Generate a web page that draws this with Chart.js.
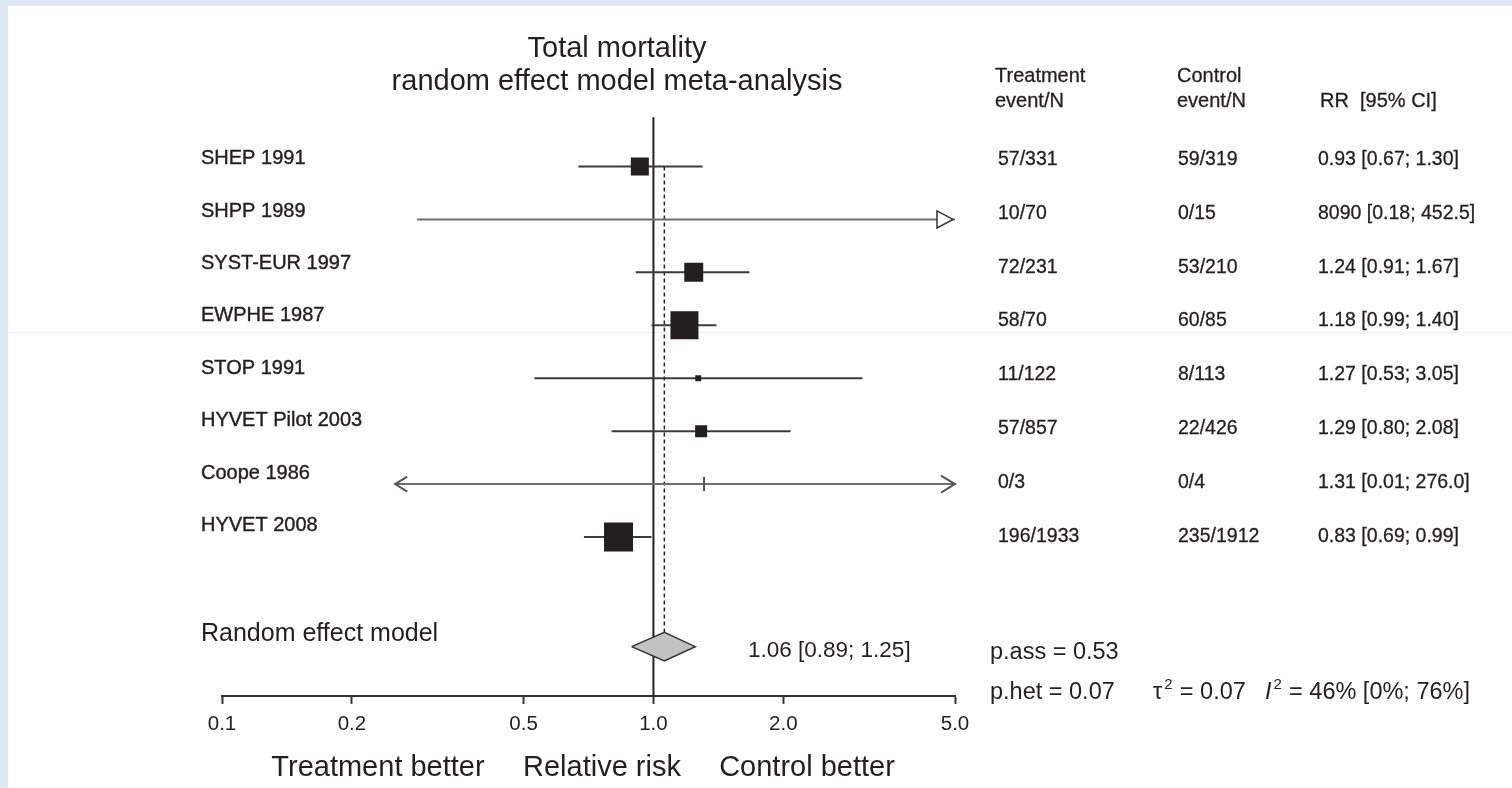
<!DOCTYPE html>
<html>
<head>
<meta charset="utf-8">
<script src="https://cdn.jsdelivr.net/npm/chart.js@4.4.1/dist/chart.umd.min.js"></script>
<style>
	html, body { margin: 0; padding: 0; }
	body { width: 1512px; height: 788px; background: #dde8f4; position: relative; overflow: hidden; }
	#panel { position: absolute; left: 8px; top: 6px; right: 0; bottom: 0; background: #fff; }
	#seam { position: absolute; left: 8px; right: 0; top: 332px; height: 1px; background: #edf2f8; }
	canvas { position: absolute; left: 0; top: 0; }
</style>
</head>
<body>
<div id="panel"></div>
<div id="seam"></div>
<canvas id="forest" width="1512" height="788"></canvas>
<script>
// study data
const studies = ['SHEP 1991', 'SHPP 1989', 'SYST-EUR 1997', 'EWPHE 1987', 'STOP 1991', 'HYVET Pilot 2003', 'Coope 1986', 'HYVET 2008'];
const treatment = ['57/331', '10/70', '72/231', '58/70', '11/122', '57/857', '0/3', '196/1933'];
const control = ['59/319', '0/15', '53/210', '60/85', '8/113', '22/426', '0/4', '235/1912'];
const rr = [0.93, 8090, 1.24, 1.18, 1.27, 1.29, 1.31, 0.83];
const ciLow = [0.67, 0.18, 0.91, 0.99, 0.53, 0.80, 0.01, 0.69];
const ciHigh = [1.30, 452.5, 1.67, 1.40, 3.05, 2.08, 276.0, 0.99];
// where the original figure stops the clipped lines on the left
const clipLow = [null, 0.283, null, null, null, null, 0.252, null];
// box weights (%)
const weights = [13.0, 0, 14.4, 31.4, 1.4, 5.8, 0, 33.6];

const pooled = 1.06, pooledLow = 0.89, pooledHigh = 1.25;
const pAss = '0.53', pHet = '0.07', tau2 = '0.07', i2 = '46% [0%; 76%]';
const xTicks = [0.1, 0.2, 0.5, 1, 2, 5];

const X_MIN = 0.1, X_MAX = 5;
const SUMMARY_ROW = 10.07, DIAMOND_H = 0.27;
const FONT = '"Liberation Sans", Arial, sans-serif';
const INK = '#231f20';
const BOX = 5; // px per sqrt(weight)

const fmt = v => v >= 1000 ? String(v) : (v >= 100 ? v.toFixed(1) : v.toFixed(2));

const datasets = [];

studies.forEach((s, i) => {
	const lo = clipLow[i] != null ? clipLow[i] : Math.max(ciLow[i], X_MIN),
		hi = Math.min(ciHigh[i], X_MAX);
	datasets.push({
		label: s,
		data: [{ x: lo, y: i + 1 }, { x: hi, y: i + 1 }],
		showLine: true,
		borderColor: weights[i] ? '#3c3c3c' : '#6e6e6e',
		borderWidth: 2,
		pointRadius: 0,
		order: 3
	});
});

// weighted boxes
datasets.push({
	label: 'boxes',
	data: studies.map((s, i) => ({ x: rr[i], y: i + 1, w: weights[i] })).filter(p => p.w > 0),
	pointStyle: 'rect',
	pointRadius: c => BOX * Math.sqrt(c.raw.w) / Math.SQRT2,
	backgroundColor: INK,
	borderWidth: 0,
	order: 0
});

// zero weight estimates inside the range: a small tick
datasets.push({
	label: 'ticks',
	data: studies.map((s, i) => ({ x: rr[i], y: i + 1, w: weights[i] }))
		.filter(p => p.w === 0 && p.x >= X_MIN && p.x <= X_MAX),
	pointStyle: 'line',
	rotation: 90,
	pointRadius: 7,
	borderColor: '#555',
	borderWidth: 2,
	order: 0
});

// no effect line
datasets.push({
	label: 'ref',
	data: [{ x: 1, y: 0.07 }, { x: 1, y: 11 }],
	showLine: true,
	borderColor: '#222',
	borderWidth: 2,
	pointRadius: 0,
	order: 4
});

// pooled estimate line
datasets.push({
	label: 'pooled',
	data: [{ x: pooled, y: 1 }, { x: pooled, y: SUMMARY_ROW - DIAMOND_H }],
	showLine: true,
	borderColor: '#222',
	borderWidth: 1.5,
	borderDash: [4, 3],
	pointRadius: 0,
	order: 4
});

// summary diamond
datasets.push({
	label: 'diamond',
	data: [
		{ x: pooledLow, y: SUMMARY_ROW },
		{ x: pooled, y: SUMMARY_ROW - DIAMOND_H },
		{ x: pooledHigh, y: SUMMARY_ROW },
		{ x: pooled, y: SUMMARY_ROW + DIAMOND_H },
		{ x: pooledLow, y: SUMMARY_ROW }
	],
	showLine: true,
	fill: 'shape',
	backgroundColor: '#c2c2c2',
	borderColor: '#333',
	borderWidth: 1.5,
	pointRadius: 0,
	order: 1
});

const chevron = (ctx, tipX, y, dir, len, half) => {
	ctx.beginPath();
	ctx.moveTo(tipX - dir * len, y - half);
	ctx.lineTo(tipX, y);
	ctx.lineTo(tipX - dir * len, y + half);
	ctx.stroke();
};

const annotate = {
	id: 'annotate',
	afterDatasetsDraw(chart) {
		const { ctx, scales: { x, y } } = chart;
		ctx.save();
		ctx.lineWidth = 2;
		studies.forEach((s, i) => {
			const py = y.getPixelForValue(i + 1);
			if (ciHigh[i] > X_MAX) {
				const tip = x.getPixelForValue(X_MAX);
				if (rr[i] > X_MAX) {
					// estimate itself off the scale: open triangle
					ctx.beginPath();
					ctx.moveTo(tip - 18, py - 8.5);
					ctx.lineTo(tip - 2, py);
					ctx.lineTo(tip - 18, py + 8.5);
					ctx.closePath();
					ctx.fillStyle = '#fff';
					ctx.fill();
					ctx.strokeStyle = '#333';
					ctx.lineWidth = 1.5;
					ctx.stroke();
				} else {
					ctx.strokeStyle = '#555';
					ctx.lineWidth = 2;
					chevron(ctx, tip, py, 1, 14, 8.5);
				}
			}
			if (ciLow[i] < X_MIN) {
				ctx.strokeStyle = '#555';
				ctx.lineWidth = 2;
				chevron(ctx, x.getPixelForValue(clipLow[i] || X_MIN), py, -1, 12, 7.5);
			}
		});
		ctx.restore();
	},
	afterDraw(chart) {
		const { ctx, scales: { y } } = chart;
		const txt = (s, px, py, font, align, heavy) => {
			ctx.font = font;
			ctx.fillStyle = INK;
			ctx.textAlign = align || 'left';
			ctx.textBaseline = 'alphabetic';
			ctx.fillText(s, px, py);
			if (heavy) {
				ctx.strokeStyle = INK;
				ctx.lineWidth = heavy;
				ctx.strokeText(s, px, py);
			}
			return ctx.measureText(s).width;
		};
		ctx.save();

		// title
		txt('Total mortality', 617, 57, `29px ${FONT}`, 'center');
		txt('random effect model meta-analysis', 617, 90, `29px ${FONT}`, 'center');

		// table header
		const hf = `20px ${FONT}`;
		txt('Treatment', 995, 82, hf, 'left', 0.3);
		txt('event/N', 995, 107, hf, 'left', 0.3);
		txt('Control', 1177, 82, hf, 'left', 0.3);
		txt('event/N', 1177, 107, hf, 'left', 0.3);
		txt('RR  [95% CI]', 1320, 107, hf, 'left', 0.3);

		// rows (the printed columns run on a slightly different pitch than the plot rows)
		studies.forEach((s, i) => {
			const py = y.getPixelForValue(i + 1);
			txt(s, 201, py - 2 - i * 0.6, `20px ${FONT}`, 'left', 0.4);
			const vf = `19.5px ${FONT}`, vy = py - 1.5 + i * 0.85;
			txt(treatment[i], 998, vy, vf, 'left', 0.3);
			txt(control[i], 1178, vy, vf, 'left', 0.3);
			txt(`${fmt(rr[i])} [${fmt(ciLow[i])}; ${fmt(ciHigh[i])}]`, 1318, vy, vf, 'left', 0.3);
		});

		// summary
		const sy = y.getPixelForValue(SUMMARY_ROW);
		const sf = `23.5px ${FONT}`;
		txt('Random effect model', 201, sy - 6, `25px ${FONT}`);
		txt(`${pooled.toFixed(2)} [${pooledLow.toFixed(2)}; ${pooledHigh.toFixed(2)}]`, 748, sy + 10, `22.5px ${FONT}`);
		txt(`p.ass = ${pAss}`, 990, sy + 12, sf);
		const hy = y.getPixelForValue(11) + 3;
		txt(`p.het = ${pHet}`, 990, hy, sf);
		let cx = 1153;
		cx += txt('\u03c4', cx, hy, sf);
		txt('2', cx + 2, hy - 10, `15px ${FONT}`);
		txt(` = ${tau2}`, cx + 11, hy, sf);
		cx = 1265;
		cx += txt('I', cx, hy, `italic ${sf}`);
		txt('2', cx + 2, hy - 10, `15px ${FONT}`);
		txt(` = ${i2}`, cx + 11, hy, sf);

		// axis captions
		const cf = `29px ${FONT}`;
		txt('Treatment better', 378, 776, cf, 'center');
		txt('Relative risk', 602, 776, cf, 'center');
		txt('Control better', 807, 776, cf, 'center');
		ctx.restore();
	}
};

new Chart(document.getElementById('forest'), {
	type: 'scatter',
	data: { datasets },
	plugins: [annotate],
	options: {
		responsive: false,
		animation: false,
		events: [],
		layout: { padding: { left: 222, right: 557, top: 113.5, bottom: 43.5 } },
		plugins: { legend: { display: false }, tooltip: { enabled: false } },
		scales: {
			x: {
				type: 'logarithmic',
				min: X_MIN,
				max: X_MAX,
				afterBuildTicks: s => { s.ticks = xTicks.map(v => ({ value: v })); },
				ticks: {
					callback: v => Number(v).toFixed(1),
					color: INK,
					font: { family: FONT, size: 20.5, lineHeight: 1.2 },
					padding: 8,
					maxRotation: 0,
					autoSkip: false
				},
				grid: { drawOnChartArea: false, drawTicks: true, tickLength: 8, tickColor: '#333', tickWidth: 2, color: '#333' },
				border: { display: true, color: '#333', width: 2 }
			},
			y: { type: 'linear', display: false, min: 0, max: 11, reverse: true }
		}
	}
});
</script>
</body>
</html>
